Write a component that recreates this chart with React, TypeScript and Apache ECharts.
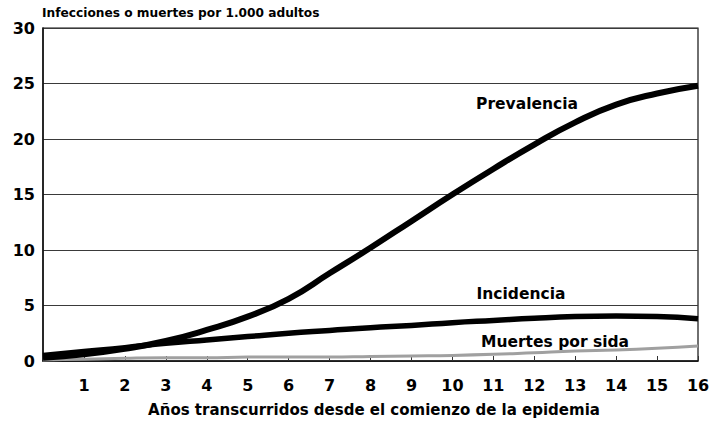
import React, { useEffect, useRef } from "react";
import * as echarts from "echarts";

const years = [0, 1, 2, 3, 4, 5, 6, 7, 8, 9, 10, 11, 12, 13, 14, 15, 16];
const prevalencia = [0.3, 0.6, 1.1, 1.8, 2.8, 4.0, 5.6, 7.9, 10.2, 12.6, 15.0, 17.3, 19.5, 21.5, 23.1, 24.1, 24.8];
const incidencia = [0.5, 0.85, 1.2, 1.6, 1.9, 2.2, 2.5, 2.75, 3.0, 3.2, 3.45, 3.65, 3.85, 4.0, 4.05, 4.0, 3.8];
const muertes = [0.1, 0.15, 0.25, 0.3, 0.3, 0.35, 0.35, 0.35, 0.4, 0.45, 0.5, 0.6, 0.75, 0.9, 1.0, 1.15, 1.35];
const yTicks = [0, 5, 10, 15, 20, 25, 30];

const titleText = "Infecciones o muertes por 1.000 adultos";
const xName = "Años transcurridos desde el comienzo de la epidemia";
const FONT = "'DejaVu Sans', 'Liberation Sans', sans-serif";

export default function App() {
  const ref = useRef<HTMLDivElement>(null);
  useEffect(() => {
    if (!ref.current) return;
    const chart = echarts.init(ref.current, null, { renderer: "svg" });
    const pair = (vals: number[]) => years.map((x, i) => [x, vals[i]]);
    chart.setOption({
      animation: false,
      backgroundColor: "#fff",
      textStyle: { fontFamily: FONT },
      grid: { left: 43, right: 15, top: 28, bottom: 70, show: true, borderColor: "#111", borderWidth: 1.2 },
      xAxis: {
        type: "value",
        min: 0,
        max: 16,
        interval: 1,
        axisLine: { lineStyle: { color: "#111", width: 1.5 } },
        axisTick: { inside: true, length: 5, lineStyle: { color: "#333" } },
        splitLine: { show: false },
        axisLabel: {
          margin: 16,
          color: "#000",
          fontWeight: "bold",
          fontSize: 16,
          fontFamily: FONT,
          formatter: (v: number) => (v === 0 ? "" : String(v)),
        },
      },
      yAxis: {
        type: "value",
        min: yTicks[0],
        max: yTicks[yTicks.length - 1],
        interval: 5,
        axisLine: { show: true, lineStyle: { color: "#111", width: 1.5 } },
        axisTick: { show: false },
        splitLine: { lineStyle: { color: "#3a3a3a", width: 1 } },
        axisLabel: { margin: 8, color: "#000", fontWeight: "bold", fontSize: 16, fontFamily: FONT },
      },
      graphic: [
        { type: "text", left: 42, top: 7, style: { text: titleText, fill: "#000", font: `bold 12.2px ${FONT}` } },
        { type: "text", x: 374, y: 410, style: { text: xName, fill: "#000", font: `bold 15px ${FONT}`, align: "center", verticalAlign: "middle" } },
        { type: "text", x: 527, y: 104, style: { text: "Prevalencia", fill: "#000", font: `bold 15.5px ${FONT}`, align: "center", verticalAlign: "middle" } },
        { type: "text", x: 521, y: 294, style: { text: "Incidencia", fill: "#000", font: `bold 15.5px ${FONT}`, align: "center", verticalAlign: "middle" } },
        { type: "text", x: 555, y: 342, style: { text: "Muertes por sida", fill: "#000", font: `bold 15.5px ${FONT}`, align: "center", verticalAlign: "middle" } },
      ],
      series: [
        {
          name: "Muertes por sida",
          type: "line",
          data: pair(muertes),
          smooth: true,
          showSymbol: false,
          lineStyle: { color: "#a0a0a0", width: 3 },
          z: 2,
        },
        {
          name: "Incidencia",
          type: "line",
          data: pair(incidencia),
          smooth: true,
          showSymbol: false,
          lineStyle: { color: "#000", width: 5.5 },
          z: 3,
        },
        {
          name: "Prevalencia",
          type: "line",
          data: pair(prevalencia),
          smooth: true,
          showSymbol: false,
          lineStyle: { color: "#000", width: 6 },
          z: 4,
        },
      ],
    });
    return () => chart.dispose();
  }, []);
  return <div ref={ref} style={{ position: "fixed", left: 0, top: 0, width: 713, height: 431 }} />;
}
